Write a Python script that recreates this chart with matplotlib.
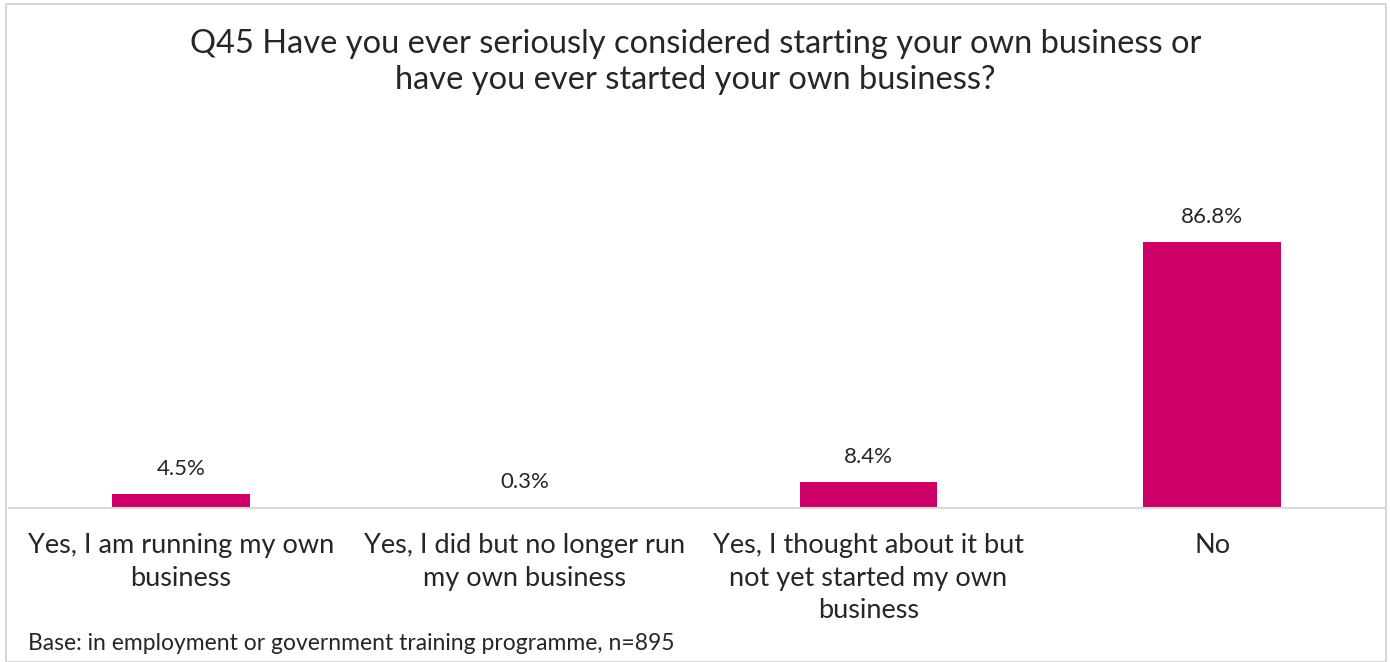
import matplotlib
matplotlib.use("Agg")
import matplotlib.pyplot as plt
from matplotlib.patches import Rectangle

categories = [
    "Yes, I am running my own\nbusiness",
    "Yes, I did but no longer run\nmy own business",
    "Yes, I thought about it but\nnot yet started my own\nbusiness",
    "No",
]
values = [4.5, 0.3, 8.4, 86.8]
value_labels = ["4.5%", "0.3%", "8.4%", "86.8%"]
title = ("Q45 Have you ever seriously considered starting your own business or\n"
         "have you ever started your own business?")
footnote = "Base: in employment or government training programme, n=895"

BAR = "#CC0066"
TEXT = "#262626"
W, H = 1391, 662

plt.rcParams["font.family"] = ["Lato", "DejaVu Sans"]
fig = plt.figure(figsize=(W / 100, H / 100), dpi=100)

# outer chart frame
fig.patches.append(Rectangle((6 / W, 0), 1380 / W, 658 / H, transform=fig.transFigure,
                             fill=False, edgecolor="#D0D0D0", linewidth=1.2))

# axes: baseline at y=508 px, spanning x 9..1384 px
ax = fig.add_axes([9 / W, (H - 508) / H, 1375 / W, 358 / H])
x = list(range(len(categories)))
ax.bar(x, values, width=0.4, color=BAR, zorder=2)
ax.set_xlim(-0.5, len(categories) - 0.5)
ax.set_ylim(0, 86.8 * 358 / 266)

for xi, v, lab in zip(x, values, value_labels):
    ax.annotate(lab, (xi, v), xytext=(0, 11), textcoords="offset points",
                ha="center", va="bottom", fontsize=16, color=TEXT)

for s in ["top", "left", "right"]:
    ax.spines[s].set_visible(False)
ax.spines["bottom"].set_color("#D9D9D9")
ax.spines["bottom"].set_linewidth(1.5)
ax.set_yticks([])
ax.set_xticks(x)
ax.set_xticklabels(categories, fontsize=19.5, color=TEXT, linespacing=1.38)
ax.tick_params(axis="x", length=0, pad=18)

fig.text(0.5, (H - 62) / H, title, ha="center", va="center", fontsize=23.5,
         color=TEXT, linespacing=1.28)
fig.text(28 / W, (H - 643) / H, footnote, ha="left", va="center", fontsize=16.5, color=TEXT)

fig.savefig("out.png", dpi=100, facecolor="white")
